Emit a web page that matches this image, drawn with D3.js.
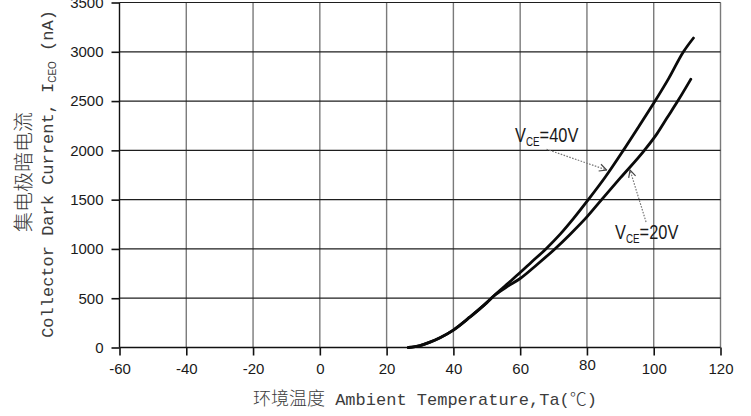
<!DOCTYPE html>
<html>
<head>
<meta charset="utf-8">
<script src="https://cdn.jsdelivr.net/npm/d3@7"></script>
<style>
  body { margin: 0; background: #fff; }
  svg { display: block; }
</style>
</head>
<body>
<svg id="chart" width="751" height="416"></svg>
<script>
// Axis ticks
const xTicks = [-60, -40, -20, 0, 20, 40, 60, 80, 100, 120];
const yTicks = [0, 500, 1000, 1500, 2000, 2500, 3000, 3500];

// Collector dark current I_CEO (nA) vs ambient temperature (°C)
const temps40 = [26.5, 30, 33, 36, 40, 45, 50, 52, 56, 60, 63.5, 67.7, 72, 76, 80.4, 85.5, 90.9, 95.5, 100.4, 104.5, 108.9, 111.9];
const iceo40  = [0, 20, 55, 100, 177, 310, 455, 520, 640, 760, 870, 1000, 1150, 1310, 1500, 1730, 2000, 2240, 2500, 2730, 3000, 3140];

const temps20 = [26.5, 30, 33, 36, 40, 45, 50, 52, 56, 60, 65, 70.4, 75, 80, 84.4, 90, 97.2, 101, 104, 107.2, 111.1];
const iceo20  = [0, 20, 55, 100, 177, 310, 455, 520, 615, 700, 840, 1000, 1150, 1325, 1500, 1720, 2000, 2170, 2330, 2500, 2721];

// Curve labels: V with subscript CE
const labelMain = ["V", "V"];
const labelSub = ["CE", "CE"];
const labelTail = ["=40V", "=20V"];

const svg = d3.select("#chart");

const x = d3.scaleLinear().domain([-60, 120]).range([119.5, 720.5]);
const y = d3.scaleLinear().domain([0, 3500]).range([347.5, 2.5]);

// Grid: vertical lines grey, horizontal lines dark
const grid = svg.append("g");
grid.selectAll("line.v").data(xTicks.slice(1)).join("line")
  .attr("class", "v")
  .attr("x1", d => x(d)).attr("x2", d => x(d))
  .attr("y1", y(3500)).attr("y2", y(0))
  .attr("stroke", "#7a7a7a").attr("stroke-width", 1.4);
grid.selectAll("line.h").data(yTicks.slice(1)).join("line")
  .attr("class", "h")
  .attr("x1", x(-60)).attr("x2", x(120))
  .attr("y1", d => y(d)).attr("y2", d => y(d))
  .attr("stroke", "#1e1e1e").attr("stroke-width", 1.2);

// Axes
const tickFont = "'Liberation Sans', Arial, sans-serif";
const plain = d => String(d);
const yAxis = svg.append("g")
  .attr("transform", `translate(${x(-60)},0)`)
  .call(d3.axisLeft(y).tickValues(yTicks).tickFormat(plain).tickSize(8).tickSizeOuter(0).tickPadding(8));
const xAxis = svg.append("g")
  .attr("transform", `translate(0,${y(0)})`)
  .call(d3.axisBottom(x).tickValues(xTicks).tickFormat(plain).tickSize(8).tickSizeOuter(0).tickPadding(8));

[yAxis, xAxis].forEach(g => {
  g.select(".domain").attr("stroke", "#111").attr("stroke-width", 1.4);
  g.selectAll(".tick line").attr("stroke", "#111").attr("stroke-width", 1.6);
  g.selectAll(".tick text")
    .attr("font-family", tickFont)
    .attr("font-size", 15)
    .attr("fill", "#1a1a1a");
});
yAxis.select(".domain").attr("d", `M0,${y(0)}V${y(3500)}`);
xAxis.select(".domain").attr("d", `M${x(-60)},0H${x(120)}`);
// the 80 label sits a little lower
xAxis.selectAll(".tick text").filter(d => d === 80).attr("y", 12);

// Curves
const line = d3.line()
  .x(d => x(d[0]))
  .y(d => y(d[1]))
  .curve(d3.curveMonotoneX);

const curves = [
  d3.zip(temps40, iceo40),
  d3.zip(temps20, iceo20)
];
svg.append("g").selectAll("path").data(curves).join("path")
  .attr("d", line)
  .attr("fill", "none")
  .attr("stroke", "#0a0a0a")
  .attr("stroke-width", 2.8)
  .attr("stroke-linecap", "round")
  .attr("stroke-linejoin", "round");

// Arrow markers
const defs = svg.append("defs");
defs.append("marker")
  .attr("id", "chev")
  .attr("viewBox", "0 0 10 10")
  .attr("refX", 9).attr("refY", 5)
  .attr("markerWidth", 9).attr("markerHeight", 9)
  .attr("markerUnits", "userSpaceOnUse")
  .attr("orient", "auto")
  .append("path")
  .attr("d", "M1,1 L9,5 L1,9")
  .attr("fill", "none")
  .attr("stroke", "#444")
  .attr("stroke-width", 1.3);

// Annotations (label anchor and arrow in data units)
const notes = [
  { lx: 58.45, ly: 2088, from: [67.9, 2011], to: [85.9, 1801] },
  { lx: 88.4,  ly: 1101, from: [97.7, 1273], to: [92.9, 1801] }
];

const ann = svg.append("g");
ann.selectAll("line").data(notes).join("line")
  .attr("x1", d => x(d.from[0])).attr("y1", d => y(d.from[1]))
  .attr("x2", d => x(d.to[0])).attr("y2", d => y(d.to[1]))
  .attr("stroke", "#777")
  .attr("stroke-width", 1.2)
  .attr("stroke-dasharray", "1.6,1.4")
  .attr("marker-end", "url(#chev)");

const labels = ann.selectAll("text").data(notes).join("text")
  .attr("transform", d => `translate(${x(d.lx)},${y(d.ly)}) scale(0.82,1)`)
  .attr("font-family", tickFont)
  .attr("font-size", 20)
  .attr("fill", "#1a1a1a");
labels.append("tspan").text((d, i) => labelMain[i]);
labels.append("tspan").attr("font-size", 12).attr("dy", 4).text((d, i) => labelSub[i]);
labels.append("tspan").attr("dy", -4).text((d, i) => labelTail[i]);

// Axis titles
const titleColor = "#3c3c3c";
const monoFont = "'Liberation Mono', 'DejaVu Sans Mono', monospace";
const cjkFont = "'Noto Sans CJK SC', sans-serif";

const xTitle = svg.append("text")
  .attr("x", 425).attr("y", 405)
  .attr("text-anchor", "middle")
  .attr("fill", titleColor);
xTitle.append("tspan").attr("font-family", cjkFont).attr("font-size", 18).attr("font-weight", 300).text("环境温度");
xTitle.append("tspan").attr("font-family", monoFont).attr("font-size", 17).text(" Ambient Temperature,Ta(");
xTitle.append("tspan").attr("font-family", cjkFont).attr("font-size", 17).attr("font-weight", 300).text("℃");
xTitle.append("tspan").attr("font-family", monoFont).attr("font-size", 17).text(")");

svg.append("text")
  .attr("transform", "translate(31,172) rotate(-90)")
  .attr("text-anchor", "middle")
  .attr("font-family", cjkFont)
  .attr("font-size", 20)
  .attr("font-weight", 300)
  .attr("fill", titleColor)
  .text("集电极暗电流");

const yTitle = svg.append("text")
  .attr("transform", "translate(53,174) rotate(-90)")
  .attr("text-anchor", "middle")
  .attr("fill", titleColor)
  .attr("font-family", monoFont)
  .attr("font-size", 17);
yTitle.append("tspan").text("Collector Dark Current, I");
yTitle.append("tspan").attr("font-family", tickFont).attr("font-size", 10).attr("dy", 3).text("CEO");
yTitle.append("tspan").attr("dy", -3).text(" (nA)");
</script>
</body>
</html>
